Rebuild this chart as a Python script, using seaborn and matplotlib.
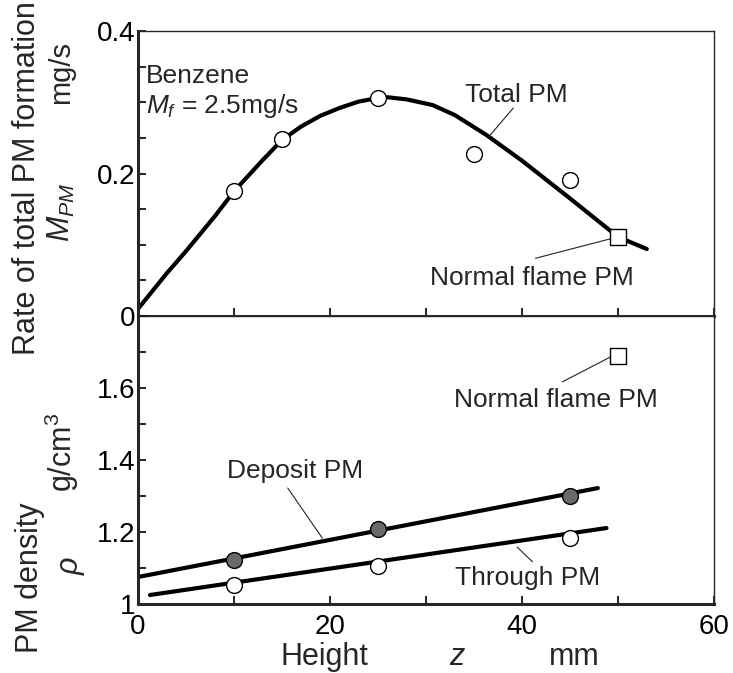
import matplotlib
matplotlib.use("Agg")
import matplotlib.pyplot as plt
import seaborn as sns
import pandas as pd
from matplotlib.ticker import FuncFormatter, MultipleLocator

# ---------------- data ----------------
# upper panel: rate of total PM formation (mg/s)
z_total = [10, 15, 25, 35, 45]
m_total = [0.175, 0.248, 0.306, 0.227, 0.191]
z_normal_top = [50]
m_normal_top = [0.111]
curve_z = [0, 3, 5, 8, 10, 13, 15, 17, 19, 21, 23, 25, 26, 28, 30.7, 33, 36.3,
           40, 45, 50, 53]
curve_m = [0.01, 0.060, 0.091, 0.140, 0.175, 0.219, 0.247, 0.266, 0.281, 0.292,
           0.301, 0.306, 0.307, 0.304, 0.296, 0.282, 0.254, 0.218, 0.165,
           0.111, 0.094]

# lower panel: PM density (g/cm3)
z_dep = [10, 25, 45]
rho_dep = [1.122, 1.207, 1.30]
z_thr = [10, 25, 45]
rho_thr = [1.053, 1.106, 1.183]
dep_line_z = [0, 47.9]
dep_line_rho = [1.075, 1.322]
thr_line_z = [1.25, 48.8]
thr_line_rho = [1.025, 1.211]
z_normal_bot = [50]
rho_normal_bot = [1.69]

x_ticks = [0, 20, 40, 60]

# ---------------- style ----------------
sns.set_style("ticks")
plt.rcParams["font.family"] = ["Liberation Sans", "DejaVu Sans"]
plt.rcParams["mathtext.fontset"] = "custom"
plt.rcParams["mathtext.rm"] = "Liberation Sans"
plt.rcParams["mathtext.it"] = "Liberation Sans:italic"

W, H = 733, 673
fig = plt.figure(figsize=(W / 100, H / 100), dpi=100)
L, R = 138 / W, 714 / W
ax1 = fig.add_axes([L, 1 - 316 / H, R - L, (316 - 31) / H])
ax2 = fig.add_axes([L, 1 - 604 / H, R - L, (604 - 316) / H])

TICK_FS = 20
TEXT_FS = 19
LAB_FS = 22

for ax in (ax1, ax2):
    ax.set_xlim(0, 60)
    ax.xaxis.set_major_locator(MultipleLocator(10))
    ax.tick_params(direction="in", length=6, width=1.2, labelsize=TICK_FS,
                   colors="black", pad=2)
    for s in ("left", "bottom"):
        ax.spines[s].set_linewidth(2.2)
    for s in ("top", "right"):
        ax.spines[s].set_visible(True)
        ax.spines[s].set_linewidth(1.0)
    ax.set_facecolor("white")
ax2.tick_params(axis="x", pad=7)

LEAD = dict(arrowstyle="-", lw=0.8, color="#222222", shrinkA=0, shrinkB=0)

# ---- upper panel ----
df_curve = pd.DataFrame({"z": curve_z, "m": curve_m})
sns.lineplot(data=df_curve, x="z", y="m", ax=ax1, color="black", lw=3,
             estimator=None, sort=False)
sns.scatterplot(x=z_total, y=m_total, ax=ax1, marker="o", s=130,
                facecolor="white", edgecolor="black", linewidth=1.0, zorder=5)
sns.scatterplot(x=z_normal_top, y=m_normal_top, ax=ax1, marker="s", s=130,
                facecolor="white", edgecolor="black", linewidth=1.0, zorder=5)
ax1.set_ylim(0, 0.4)
ax1.yaxis.set_major_locator(MultipleLocator(0.05))
ax1.yaxis.set_major_formatter(FuncFormatter(
    lambda v, p: {0: "0", 0.2: "0.2", 0.4: "0.4"}.get(round(v, 3), "")))
ax1.set_xticklabels([])
ax1.set_xlabel("")
ax1.set_ylabel("")

ax1.text(0.8, 0.337, "Benzene", fontsize=TEXT_FS, va="center", ha="left")
ax1.text(0.8, 0.295, r"$M_f$ = 2.5mg/s", fontsize=TEXT_FS, va="center", ha="left")
ax1.text(39.4, 0.310, "Total PM", fontsize=TEXT_FS, ha="center", va="center")
ax1.annotate("", xy=(36.5, 0.251), xytext=(39.1, 0.292), arrowprops=LEAD)
ax1.text(41.0, 0.053, "Normal flame PM", fontsize=TEXT_FS, ha="center",
         va="center")
ax1.annotate("", xy=(49.4, 0.109), xytext=(41.4, 0.081), arrowprops=LEAD)

# ---- lower panel ----
sns.lineplot(x=dep_line_z, y=dep_line_rho, ax=ax2, color="black", lw=3,
             estimator=None, sort=False)
sns.lineplot(x=thr_line_z, y=thr_line_rho, ax=ax2, color="black", lw=3,
             estimator=None, sort=False)
sns.scatterplot(x=z_dep, y=rho_dep, ax=ax2, marker="o", s=130,
                facecolor="#6a6a6a", edgecolor="black", linewidth=1.0, zorder=5)
sns.scatterplot(x=z_thr, y=rho_thr, ax=ax2, marker="o", s=130,
                facecolor="white", edgecolor="black", linewidth=1.0, zorder=5)
sns.scatterplot(x=z_normal_bot, y=rho_normal_bot, ax=ax2, marker="s", s=130,
                facecolor="white", edgecolor="black", linewidth=1.0, zorder=5)
ax2.set_ylim(1.0, 1.8)
ax2.yaxis.set_major_locator(MultipleLocator(0.1))
ax2.yaxis.set_major_formatter(FuncFormatter(
    lambda v, p: {1.0: "1", 1.2: "1.2", 1.4: "1.4", 1.6: "1.6"}.get(round(v, 3), "")))
ax2.xaxis.set_major_formatter(FuncFormatter(
    lambda v, p: str(int(v)) if int(round(v)) in x_ticks else ""))
ax2.set_xlabel("")
ax2.set_ylabel("")

ax2.text(43.5, 1.567, "Normal flame PM", fontsize=TEXT_FS, ha="center",
         va="center")
ax2.annotate("", xy=(49.2, 1.686), xytext=(44.2, 1.617), arrowprops=LEAD)
ax2.text(16.4, 1.369, "Deposit PM", fontsize=TEXT_FS, ha="center", va="center")
ax2.annotate("", xy=(19.2, 1.183), xytext=(15.6, 1.322), arrowprops=LEAD)
ax2.text(40.6, 1.072, "Through PM", fontsize=TEXT_FS, ha="center", va="center")
ax2.annotate("", xy=(39.5, 1.158), xytext=(41.1, 1.117), arrowprops=LEAD)

# ---- axis label texts ----
def fx(px):
    return px / W

def fy(py):
    return 1 - py / H

fig.text(fx(27), fy(178), "Rate of total PM formation", rotation=90,
         fontsize=LAB_FS, ha="center", va="center")
fig.text(fx(61), fy(73), "mg/s", rotation=90, fontsize=LAB_FS - 1,
         ha="center", va="center")
fig.text(fx(61), fy(212), r"$M_{PM}$", rotation=90, fontsize=LAB_FS,
         ha="center", va="center")
fig.text(fx(30), fy(578), "PM density", rotation=90, fontsize=LAB_FS,
         ha="center", va="center")
fig.text(fx(62), fy(452), r"g/cm$^3$", rotation=90, fontsize=LAB_FS,
         ha="center", va="center")
fig.text(fx(72), fy(565), r"$\rho$", rotation=90, fontsize=LAB_FS,
         ha="center", va="center")
fig.text(fx(324), fy(657), "Height", fontsize=LAB_FS, ha="center", va="center")
fig.text(fx(458), fy(657), r"$z$", fontsize=LAB_FS, ha="center", va="center")
fig.text(fx(574), fy(657), "mm", fontsize=LAB_FS, ha="center", va="center")

fig.savefig("out.png", dpi=100, facecolor="white")
